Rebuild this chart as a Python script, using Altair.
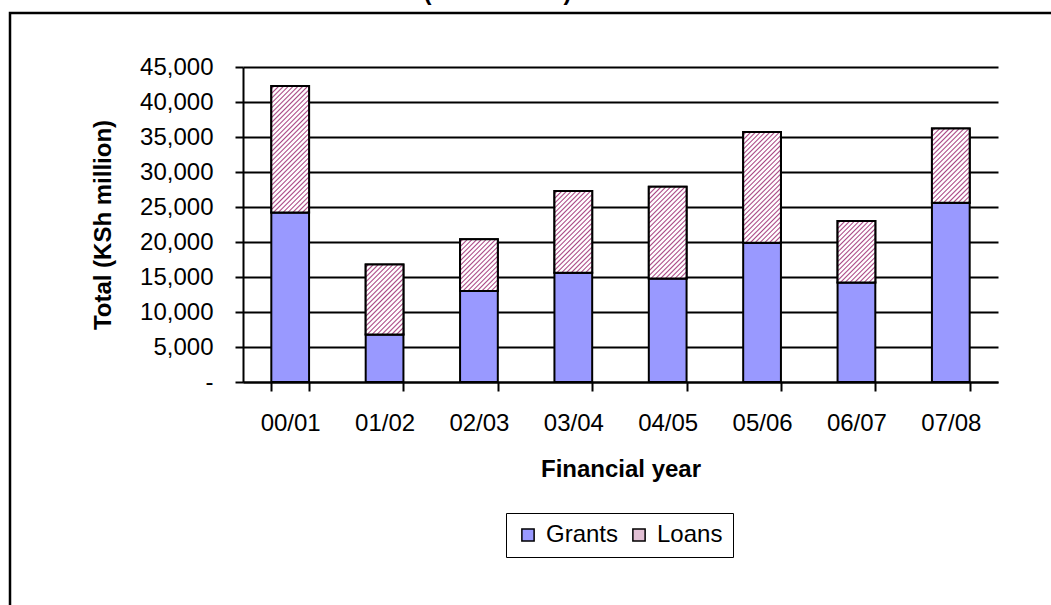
import altair as alt
import pandas as pd

# ---- data ----
years = ["00/01", "01/02", "02/03", "03/04", "04/05", "05/06", "06/07", "07/08"]
grants = [24200, 6800, 13000, 15600, 14800, 19900, 14200, 25600]
loans = [18100, 10000, 7400, 11700, 13100, 15800, 8800, 10600]
y_ticks = [0, 5000, 10000, 15000, 20000, 25000, 30000, 35000, 40000, 45000]
series = ["Grants", "Loans"]

df = pd.DataFrame({"year": years, "Grants": grants, "Loans": loans})

# ---- layout / style ----
FONT = "Liberation Sans"
PLOT_W, PLOT_H = 755, 315
Y_MAX = 45000
PAD_IN, PAD_OUT = 0.6, 0.3
BAR_W = PLOT_W / (len(years) - PAD_IN + 2 * PAD_OUT) * (1 - PAD_IN)
GRANT_COLOR = "#9999ff"
LOAN_SWATCH = "#e2bfd4"


def hatch(w, h, period=4.8):
    """Diagonal '/' hatch made of a striped linear gradient (bbox units)."""
    n = max(1, round((w + h) / period))
    s = (w + h) / (w * w + h * h)
    stops = []
    for k in range(n):
        o, d = k / n, 1 / n
        stops += [
            {"offset": o, "color": "#ffffff"},
            {"offset": o + 0.30 * d, "color": "#ffffff"},
            {"offset": o + 0.45 * d, "color": "#d49bbd"},
            {"offset": o + 0.60 * d, "color": "#a64a86"},
            {"offset": o + 0.75 * d, "color": "#d49bbd"},
            {"offset": o + 0.90 * d, "color": "#ffffff"},
        ]
    stops.append({"offset": 1, "color": "#ffffff"})
    return {"gradient": "linear", "x1": 0, "y1": 0, "x2": s * w, "y2": s * h, "stops": stops}


x_enc = alt.X(
    "year:N",
    sort=years,
    scale=alt.Scale(paddingInner=PAD_IN, paddingOuter=PAD_OUT),
    axis=alt.Axis(
        labelAngle=0,
        tickBand="extent",
        tickSize=9,
        tickWidth=2,
        domainWidth=2,
        labelPadding=20,
        titlePadding=22,
        grid=False,
    ),
    title="Financial year",
)
y_enc = alt.Y(
    "y0:Q",
    scale=alt.Scale(domain=[0, Y_MAX], nice=False),
    axis=alt.Axis(
        values=y_ticks,
        labelExpr="datum.value == 0 ? '-\u00a0\u00a0\u00a0\u00a0' : format(datum.value, ',')",
        grid=True,
        gridColor="black",
        gridWidth=2,
        gridOpacity=1,
        tickSize=8,
        tickWidth=2,
        domainWidth=2,
        labelPadding=22,
        titlePadding=24,
    ),
    title="Total (KSh million)",
)

stacked = alt.Chart(df).transform_fold(
    series, as_=["series", "value"]
).transform_stack(
    stack="value", groupby=["year"], as_=["y0", "y1"],
    sort=[alt.SortField("series", order="ascending")],
)

base = stacked.mark_bar(stroke="black", strokeWidth=2).encode(
    x=x_enc,
    y=y_enc,
    y2="y1:Q",
    color=alt.Color(
        "series:N",
        scale=alt.Scale(domain=series, range=[GRANT_COLOR, LOAN_SWATCH]),
        title=None,
    ),
)

hatch_layers = []
for yr, l in zip(years, loans):
    h = l * PLOT_H / Y_MAX
    hatch_layers.append(
        stacked.transform_filter(
            f"datum.year == '{yr}' && datum.series == 'Loans'"
        ).mark_bar(stroke="black", strokeWidth=2).encode(
            x=x_enc, y=y_enc, y2="y1:Q", fill=alt.value(hatch(BAR_W, h))
        )
    )

frame = alt.Chart(pd.DataFrame({"k": [0]})).mark_rect(
    fillOpacity=0, stroke="black", strokeWidth=2.5
).encode(
    x=alt.value(-233), x2=alt.value(900), y=alt.value(-54), y2=alt.value(650)
)

chart = alt.layer(frame, base, *hatch_layers).properties(
    width=PLOT_W,
    height=PLOT_H,
    padding={"left": 243, "top": 67, "right": 53, "bottom": 223},
    autosize=alt.AutoSizeParams(type="none"),
    title=alt.TitleParams(
        "(KSh million)",
        font=FONT,
        fontSize=24,
        fontWeight="bold",
        color="black",
        anchor="middle",
        frame="group",
        baseline="alphabetic",
        offset=-12,
        dx=-123,
    ),
).configure_view(
    strokeWidth=0
).configure_axis(
    labelFont=FONT,
    titleFont=FONT,
    labelFontSize=24,
    titleFontSize=24,
    titleFontWeight="bold",
    labelColor="black",
    titleColor="black",
    domainColor="black",
    tickColor="black",
).configure_legend(
    orient="none",
    legendX=263,
    legendY=446,
    direction="horizontal",
    strokeColor="black",
    padding=10,
    labelFont=FONT,
    labelFontSize=24,
    labelColor="black",
    symbolType="square",
    symbolSize=150,
    symbolStrokeColor="black",
    symbolStrokeWidth=1.5,
    columnPadding=8,
    labelOffset=6,
)

chart.save("out.html", embed_options={"renderer": "svg", "actions": False})
